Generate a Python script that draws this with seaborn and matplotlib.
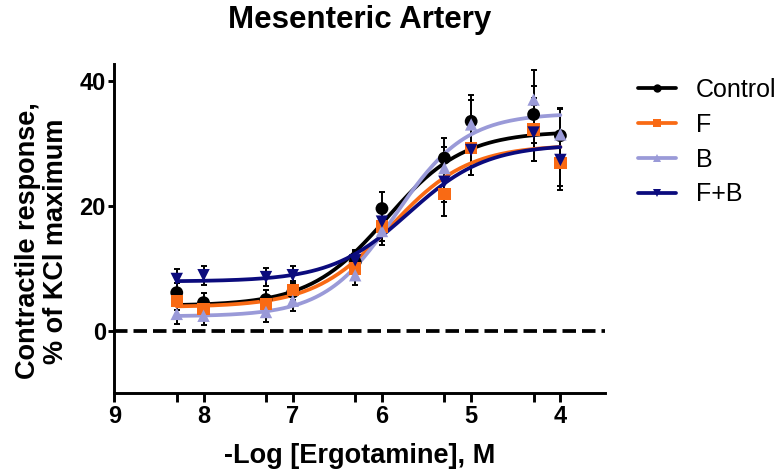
import numpy as np
import pandas as pd
import matplotlib
matplotlib.use("Agg")
import matplotlib.pyplot as plt
from matplotlib.lines import Line2D
import seaborn as sns

# ---- data ----
log_conc = [8.3, 8.0, 7.3, 7.0, 6.3, 6.0, 5.3, 5.0, 4.3, 4.0]   # -log[Ergotamine], M
groups = ["Control", "F", "B", "F+B"]

control_mean = [6.1, 4.5, 5.0, 6.2, 11.0, 19.6, 27.7, 33.6, 34.7, 31.3]
control_sem  = [1.6, 1.5, 1.5, 1.5, 1.8, 2.6, 3.3, 4.3, 4.5, 4.3]
f_mean       = [4.8, 3.5, 4.3, 6.5, 10.0, 16.7, 21.9, 29.3, 32.3, 26.9]
f_sem        = [1.5, 1.6, 1.5, 1.5, 1.7, 2.3, 3.5, 4.3, 5.0, 4.4]
b_mean       = [2.7, 2.4, 3.0, 4.8, 8.9, 16.0, 26.1, 33.1, 37.1, 31.5]
b_sem        = [1.6, 1.5, 1.6, 1.6, 1.6, 2.3, 3.3, 4.0, 4.7, 4.3]
fb_mean      = [8.3, 8.9, 8.6, 8.9, 11.3, 17.5, 23.9, 29.0, 31.8, 27.4]
fb_sem       = [1.6, 1.5, 1.5, 1.5, 1.6, 2.2, 3.2, 4.0, 4.5, 4.2]

# sigmoid fit parameters (bottom, top, pEC50, hill)
fit_bottom = [4.0, 3.8, 2.3, 7.9]
fit_top    = [32.0, 29.8, 34.9, 29.9]
fit_pec50  = [5.95, 5.9, 5.85, 5.7]
fit_hill   = [1.0, 1.0, 1.1, 1.0]

colors = {"Control": "#000000", "F": "#F96A14", "B": "#9A9AD8", "F+B": "#0B0B7D"}
markers = {"Control": "o", "F": "s", "B": "^", "F+B": "v"}

means = [control_mean, f_mean, b_mean, fb_mean]
sems = [control_sem, f_sem, b_sem, fb_sem]

pts = pd.DataFrame({
    "x": np.tile(log_conc, 4),
    "y": np.concatenate(means),
    "err": np.concatenate(sems),
    "group": np.repeat(groups, len(log_conc)),
})

xs = np.linspace(max(log_conc), min(log_conc), 200)
curve_rows = []
for g, b, t, p, h in zip(groups, fit_bottom, fit_top, fit_pec50, fit_hill):
    ys = b + (t - b) / (1 + 10 ** ((xs - p) * h))
    curve_rows.append(pd.DataFrame({"x": xs, "y": ys, "group": g}))
curves = pd.concat(curve_rows, ignore_index=True)

# ---- plot ----
sns.set_style("ticks")
plt.rcParams["font.family"] = ["Liberation Sans", "DejaVu Sans"]
plt.rcParams["font.weight"] = "bold"
for k in ["text.color", "axes.labelcolor", "xtick.color", "ytick.color", "axes.edgecolor"]:
    plt.rcParams[k] = "black"

W, H = 784, 473
fig = plt.figure(figsize=(W / 100, H / 100), dpi=100)
ax_l, ax_r, ax_t, ax_b = 114.3, 605, 64, 393
ax = fig.add_axes([ax_l / W, 1 - ax_b / H, (ax_r - ax_l) / W, (ax_b - ax_t) / H])

ax.axhline(0, color="black", lw=2.7, ls=(0, (3.6, 1.6)), zorder=1)

for g in groups:
    d = pts[pts["group"] == g]
    ax.errorbar(d["x"], d["y"], yerr=d["err"], fmt="none", ecolor="black",
                elinewidth=1.4, capsize=2.5, capthick=1.4, zorder=2)

sns.lineplot(data=curves, x="x", y="y", hue="group", palette=colors,
             hue_order=groups, lw=2.7, ax=ax, legend=False, zorder=3, sort=False)

for g in groups:
    d = pts[pts["group"] == g]
    sns.scatterplot(x=d["x"], y=d["y"], marker=markers[g], color=colors[g],
                    s=80 if g != "Control" else 85, edgecolor="none",
                    ax=ax, zorder=4, legend=False)

ax.set_xlim(9, 3.5)
ax.set_ylim(-10, 42.8)
ax.set_xticks([9, 8, 7, 6, 5, 4])
ax.set_xticks([8.3, 7.3, 6.3, 5.3, 4.3], minor=True)
ax.set_yticks([0, 20, 40])
ax.set_xticklabels(["9", "8", "7", "6", "5", "4"])

for side in ["top", "right"]:
    ax.spines[side].set_visible(False)
for side in ["left", "bottom"]:
    ax.spines[side].set_linewidth(2.1)

ax.tick_params(axis="x", which="major", length=6.5, width=2.1, labelsize=17, pad=2)
ax.tick_params(axis="x", which="minor", length=6.5, width=2.1)
ax.tick_params(axis="y", which="major", length=4.5, width=2.1, labelsize=17, pad=1.5)
for lab in ax.get_xticklabels() + ax.get_yticklabels():
    lab.set_fontweight("bold")

ax.set_xlabel("-Log [Ergotamine], M", fontsize=19.5, fontweight="bold", labelpad=11)
ax.set_ylabel("Contractile response,\n% of KCl maximum", fontsize=19.5,
              fontweight="bold", linespacing=1.1)
ax.yaxis.set_label_coords(-0.092, (ax_b - 241) / (ax_b - ax_t))
fig.text(360 / W, 1 - 28 / H, "Mesenteric Artery",
         fontsize=22.5, fontweight="bold", ha="center", va="baseline")

handles = [Line2D([0], [0], color=colors[g], lw=2.7, marker=markers[g],
                  markersize=6, markeredgewidth=0) for g in groups]
leg = ax.legend(handles, groups, loc="upper left",
                bbox_to_anchor=((638 - ax_l) / (ax_r - ax_l), (ax_b - 78) / (ax_b - ax_t)),
                frameon=False, fontsize=18, handlelength=1.5, handletextpad=0.8,
                labelspacing=0.43, borderpad=0, borderaxespad=0)
for t in leg.get_texts():
    t.set_fontweight("normal")

fig.savefig("out.png", dpi=100)
